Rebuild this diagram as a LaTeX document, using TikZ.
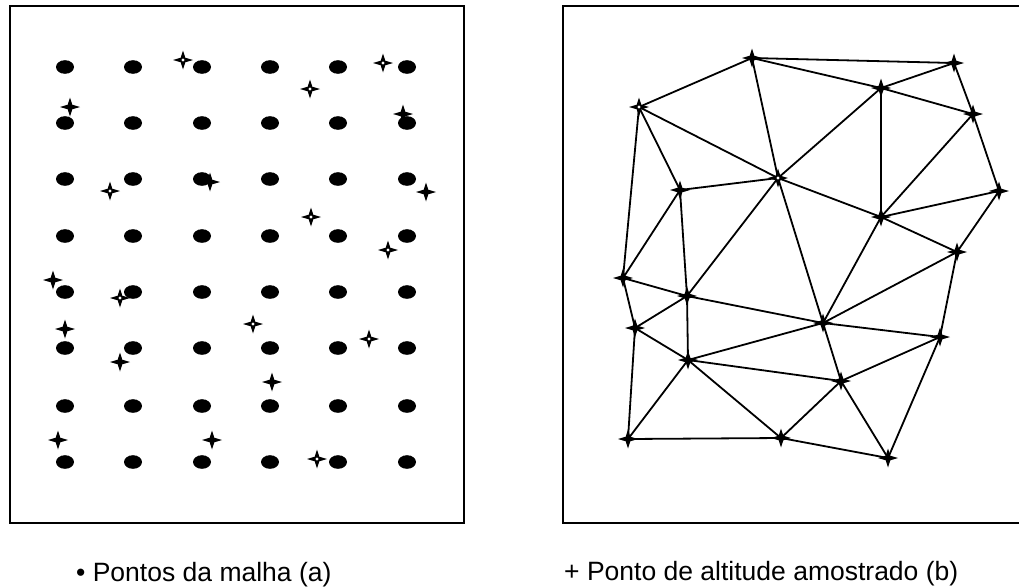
\documentclass[tikz,border=0pt]{standalone}
\usepackage{fontspec}
\setmainfont{Liberation Sans}
\usetikzlibrary{positioning}

\tikzset{
  frame/.style={line width=2.2pt},
  mesh/.style={line width=1.8pt},
  legend/.style={font=\fontsize{26.5}{30}\selectfont, inner sep=0pt, anchor=base west},
}
% sample point marks
\newcommand{\starpt}[1]{\fill #1 +(10,0) -- +(2.3,-2.3) -- +(0,-9.5) -- +(-2.3,-2.3) -- +(-10,0) -- +(-2.3,2.3) -- +(0,9.5) -- +(2.3,2.3) -- cycle;}
\newcommand{\openpt}[1]{\starpt{#1}\fill[white] #1 circle (1.6);}

\begin{document}
\begin{tikzpicture}[x=1pt, y=-1pt]
  \useasboundingbox (0,0) rectangle (1019,587);

  % Frames
  \draw[frame] (10,6) rectangle (464,523);
  \draw[frame] (1019,6) -- (563,6) -- (563,523) -- (1019,523);

  % Regular grid (a)
  \foreach \x in {65,133,202,270,338,407}
    \foreach \y in {67,123,179,236,292,348,406,462}
      \fill (\x,\y) ellipse (9 and 6.8);

  % Sampled points over the grid
  \foreach \p in {(70,107),(403,114),(210,182),(426,192),(53,280),(65,329),(120,362),(272,382),(58,440),(212,440)}
    {\starpt{\p}}
  \foreach \p in {(183,60),(383,63),(310,89),(110,191),(311,217),(388,250),(120,298),(253,324),(369,339),(317,459)}
    {\openpt{\p}}

  % Sampled points (b)
  \coordinate (s1) at (752,58);
  \coordinate (s2) at (954,63);
  \coordinate (s3) at (881,88);
  \coordinate (s4) at (639,107);
  \coordinate (s5) at (973,114);
  \coordinate (s6) at (778,178);
  \coordinate (s7) at (680,190);
  \coordinate (s8) at (999,191);
  \coordinate (s9) at (881,217);
  \coordinate (s10) at (957,252);
  \coordinate (s11) at (623,278);
  \coordinate (s12) at (687,296);
  \coordinate (s13) at (635,328);
  \coordinate (s14) at (823,323);
  \coordinate (s15) at (940,337);
  \coordinate (s16) at (688,360);
  \coordinate (s17) at (841,381);
  \coordinate (s18) at (628,439);
  \coordinate (s19) at (781,438);
  \coordinate (s20) at (888,458);

  % Triangulation
  \foreach \a/\b in {s1/s2,s1/s4,s1/s6,s1/s3,s2/s3,s2/s5,s3/s5,s3/s6,s3/s9,
      s4/s6,s4/s7,s4/s11,s5/s9,s5/s8,s6/s7,s6/s9,s6/s12,s6/s14,s7/s11,s7/s12,
      s8/s9,s8/s10,s9/s10,s9/s14,s10/s14,s10/s15,s11/s12,s11/s13,s12/s13,
      s12/s14,s12/s16,s13/s16,s13/s18,s14/s15,s14/s16,s14/s17,s15/s17,s15/s20,
      s16/s17,s16/s18,s16/s19,s17/s19,s17/s20,s18/s19,s19/s20}
    \draw[mesh] (\a) -- (\b);

  \foreach \n in {s1,s2,s3,s5,s7,s8,s9,s10,s11,s12,s13,s14,s15,s16,s17,s18,s19,s20}
    {\starpt{(\n)}}
  \openpt{(s4)}
  \openpt{(s6)}

  % Legend
  \node[legend] (lega) at (76,581) {\textbullet\ Pontos da malha (a)};
  \node[legend] (legb) at (564,580) {+ Ponto de altitude amostrado (b)};
\end{tikzpicture}
\end{document}
